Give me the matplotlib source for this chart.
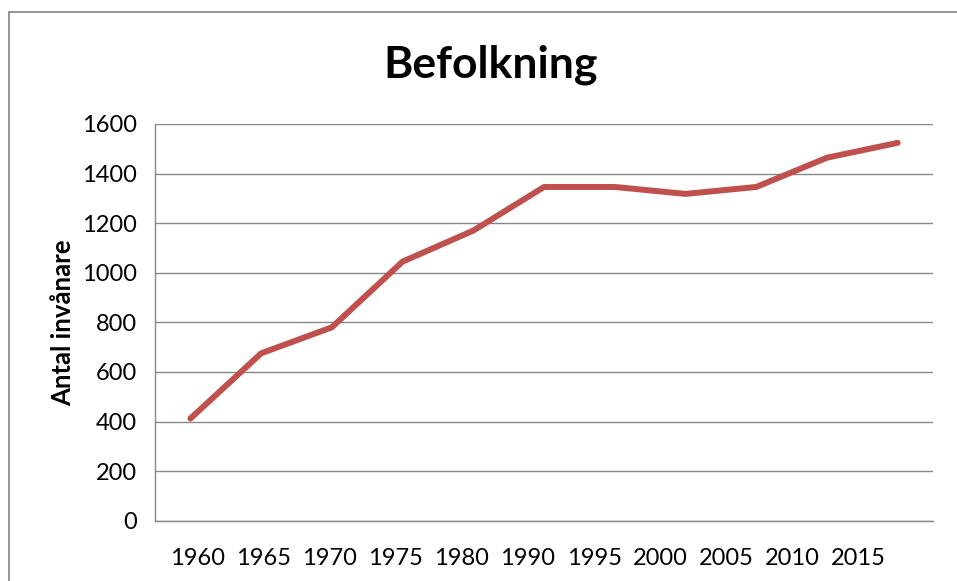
import matplotlib.pyplot as plt
from matplotlib.patches import Rectangle
import numpy as np

plt.rcParams['font.family'] = ['Lato', 'DejaVu Sans']

years = ['1960', '1965', '1970', '1975', '1980', '1990',
         '1995', '2000', '2005', '2010', '2015']
invanare = [412, 675, 780, 1045, 1170, 1346, 1346, 1318, 1346, 1464, 1524]
yticks = [0, 200, 400, 600, 800, 1000, 1200, 1400, 1600]

fig = plt.figure(figsize=(9.57, 5.81), dpi=100)
ax = fig.add_axes([0.162, 0.1038, 0.813, 0.6828])

x = np.arange(len(years))
ax.plot(x, invanare, color='#C0504D', linewidth=4.3, solid_capstyle='round')

ax.set_xlim(-0.5, len(years) - 0.5)
ax.set_ylim(0, 1600)
ax.set_yticks(yticks)
ax.set_yticklabels([str(v) for v in yticks], fontsize=17)
ax.grid(axis='y', color='#878787', linewidth=1)
ax.set_axisbelow(True)

# labels in the original sit a bit tighter than the points
ax.set_xticks(0.098 + x * 0.935)
ax.set_xticklabels(years, fontsize=17)
ax.tick_params(length=0)
ax.tick_params(axis='x', pad=20)
ax.tick_params(axis='y', pad=13)

for s in ['top', 'right']:
    ax.spines[s].set_visible(False)
for s in ['left', 'bottom']:
    ax.spines[s].set_color('#878787')
    ax.spines[s].set_linewidth(1)

ax.set_ylabel('Antal invånare', fontsize=18.5, fontweight='bold', labelpad=5)
fig.text(0.513, 0.888, 'Befolkning', ha='center', va='center',
         fontsize=32, fontweight='bold')

# chart frame
fig.patches.append(Rectangle((9 / 957, -0.1), 1.2, 1 - 12 / 581 + 0.1,
                             transform=fig.transFigure, fill=False,
                             edgecolor='#8c8c8c', linewidth=1.3))

fig.savefig('out.png', dpi=100)
